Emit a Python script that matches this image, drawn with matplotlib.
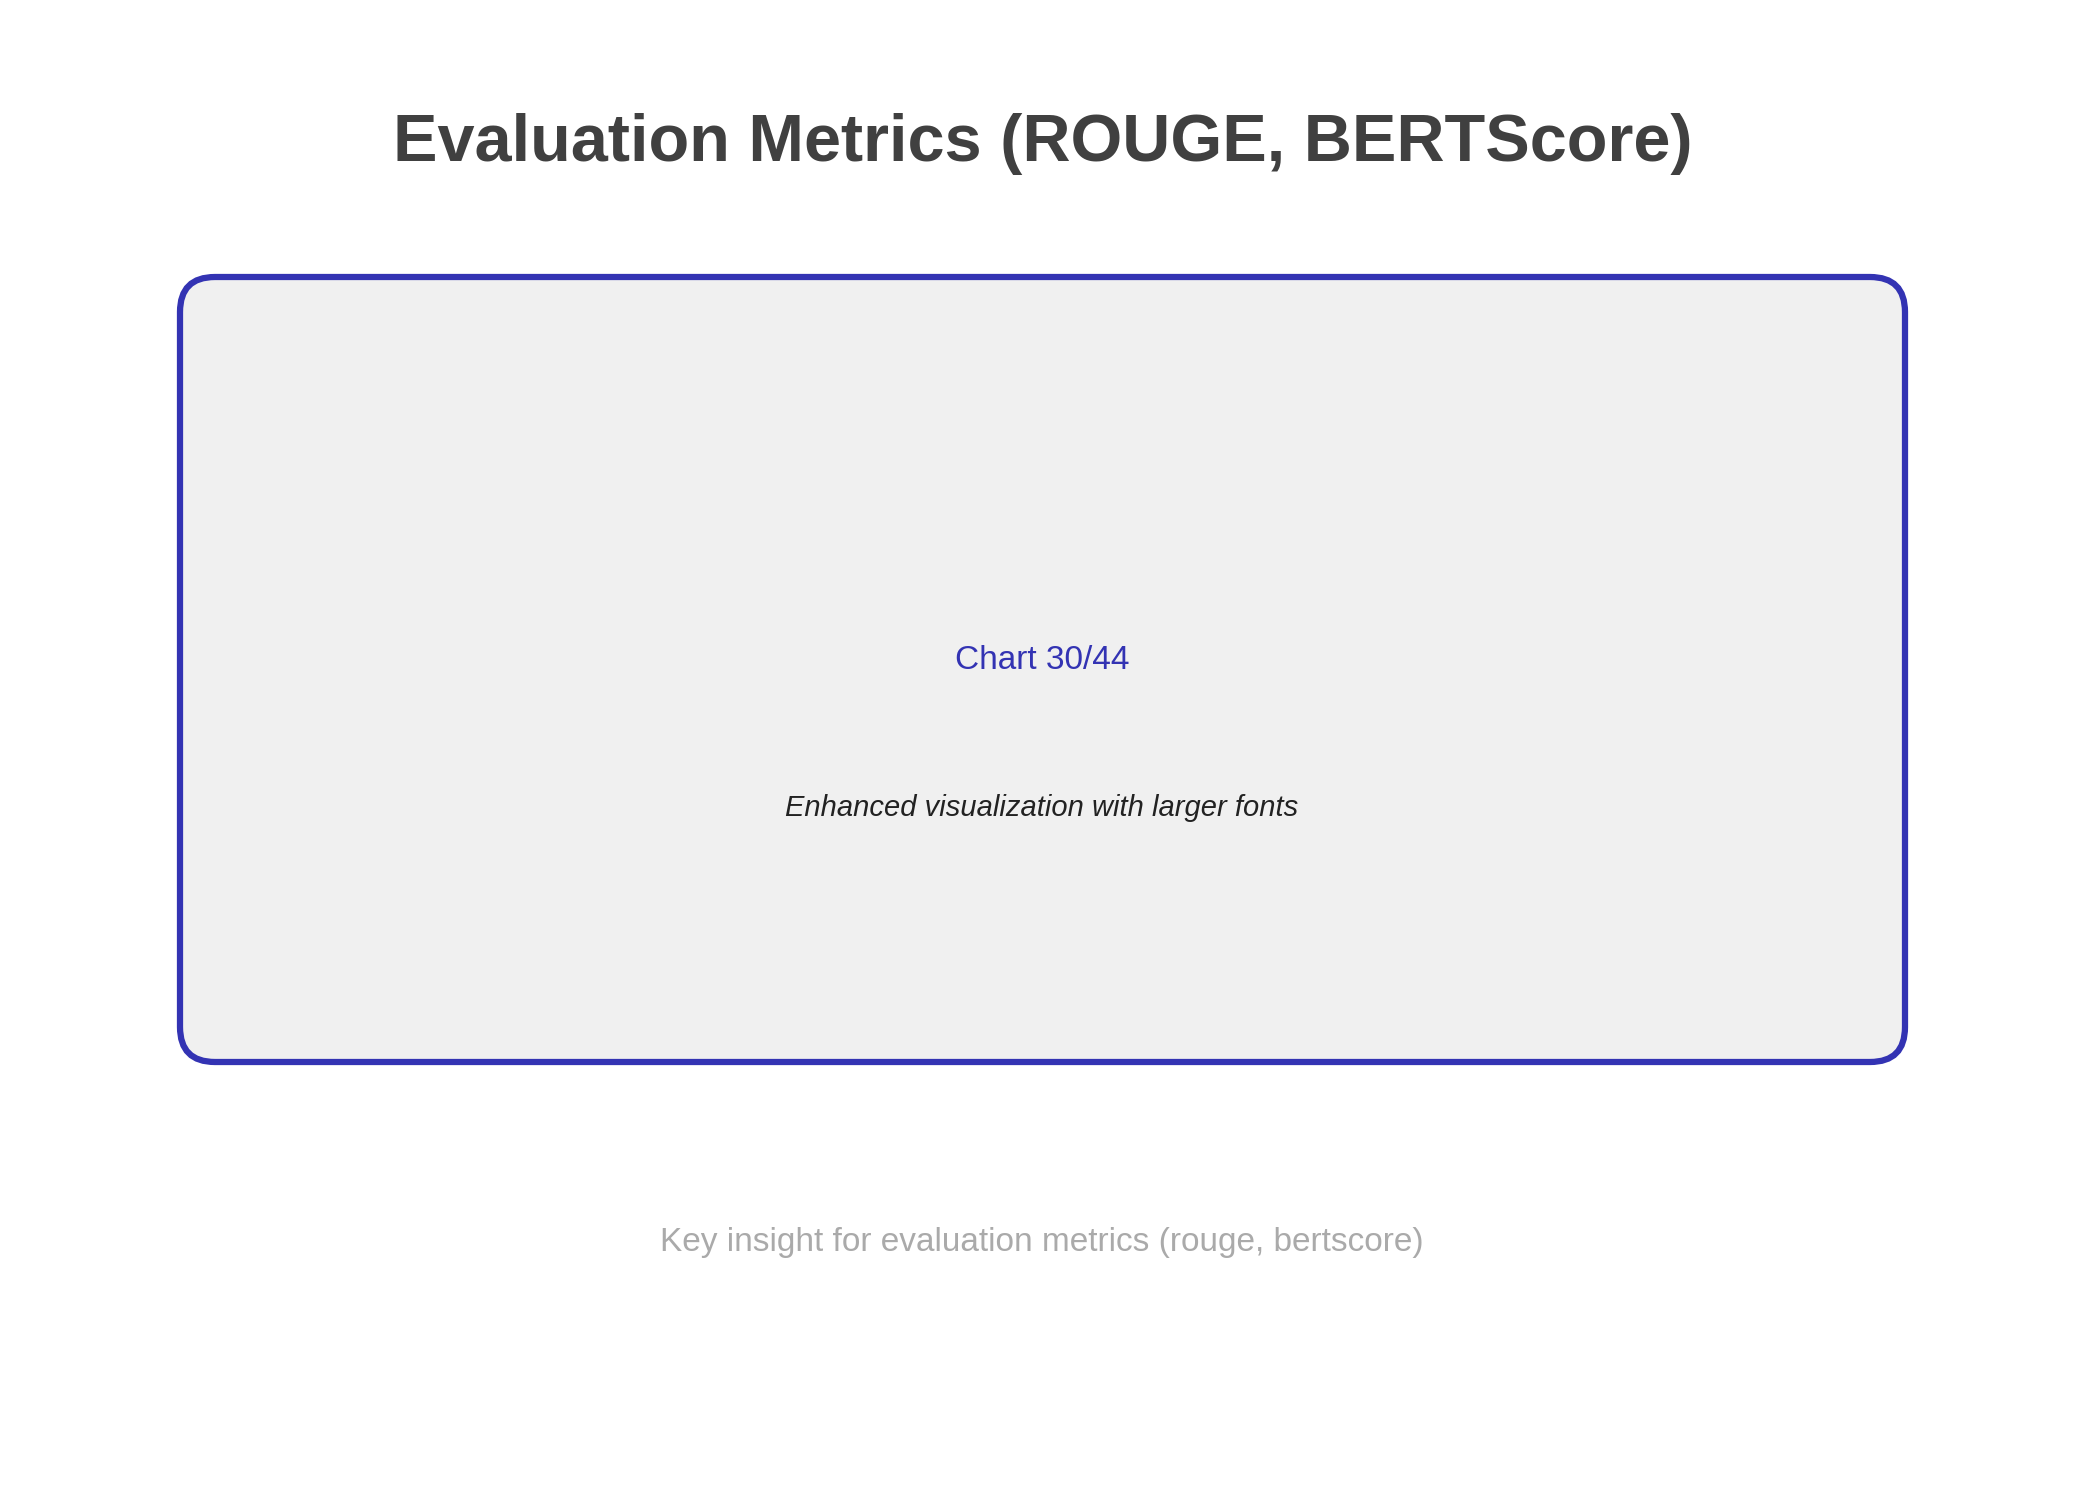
import matplotlib
matplotlib.use('Agg')
import matplotlib.pyplot as plt
from matplotlib.patches import FancyBboxPatch

plt.rcParams['font.family'] = ['Liberation Sans', 'DejaVu Sans']

title = 'Evaluation Metrics (ROUGE, BERTScore)'
chart_label = 'Chart 30/44'
subtitle = 'Enhanced visualization with larger fonts'
insight = 'Key insight for evaluation metrics (rouge, bertscore)'

W, H = 2085, 1485
fig = plt.figure(figsize=(W / 150, H / 150), dpi=150)
ax = fig.add_axes([0, 0, 1, 1])
ax.set_xlim(0, W)
ax.set_ylim(H, 0)
ax.axis('off')

# rounded panel
panel = FancyBboxPatch((180, 277), 1725, 785,
                       boxstyle='round,pad=0,rounding_size=35',
                       facecolor='#f0f0f0', edgecolor='#3333b3', linewidth=3)
ax.add_patch(panel)

ax.text(W / 2, 161, title, fontsize=32, fontweight='bold', color='#404040',
        ha='center', va='baseline')
ax.text(1042, 669, chart_label, fontsize=16, color='#3333b3',
        ha='center', va='baseline')
ax.text(1042, 816, subtitle, fontsize=14, style='italic', color='#222222',
        ha='center', va='baseline')
ax.text(1042, 1251, insight, fontsize=16, color='#aaaaaa',
        ha='center', va='baseline')

fig.savefig('out.png', dpi=150, facecolor='white')
